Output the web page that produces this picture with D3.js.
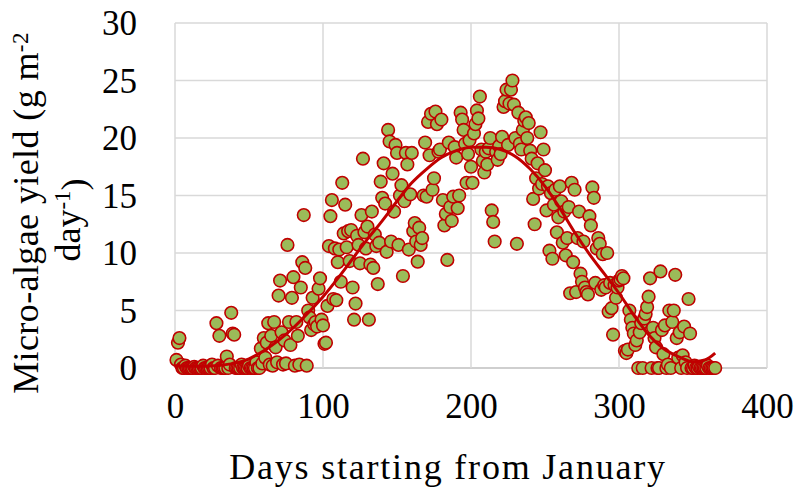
<!DOCTYPE html>
<html>
<head>
<meta charset="utf-8">
<script src="https://cdn.jsdelivr.net/npm/d3@7"></script>
<style>
  body { margin: 0; background: #fff; }
  text { font-family: "Liberation Serif", serif; fill: #000; }
</style>
</head>
<body>
<div id="chart"></div>
<script>
var days = [];
for (var d = 1; d <= 365; d++) days.push(d);

var yields = [
  0.7, 2.2, 2.6, 0.3, 0, 0, 0.2, 0, 0, 0, 0, 0, 0.1, 0, 0, 0, 0, 0, 0.2, 0,
  0, 0, 0, 0, 0.3, 0, 0, 3.9, 0.2, 2.8, 0, 0, 0, 0, 1.0, 0, 0.3, 4.8, 3.0, 2.9,
  0, 0, 0, 0, 0.3, 0, 0, 0, 0, 0.2, 0, 0, 0, 0, 0.5, 0, 0, 1.7, 0.4, 2.6,
  0.9, 2.2, 3.9, 0.3, 2.8, 0.2, 4.0, 1.8, 0.5, 6.3, 7.6, 3.1, 0.3, 2.4, 0.4, 10.7, 4.0, 2.0, 6.1, 7.9,
  0.2, 4.0, 2.8, 0.3, 7.0, 9.2, 13.3, 8.7, 0.2, 5.0, 4.4, 3.3, 6.1, 3.8, 4.0, 3.6, 6.9, 7.8, 4.2, 3.7,
  2.1, 2.2, 5.4, 10.6, 13.2, 14.6, 6.0, 10.4, 5.9, 9.2, 10.3, 7.5, 16.1, 11.7, 14.2, 10.5, 11.9, 9.3, 12.0, 7.0,
  4.2, 5.6, 11.5, 10.7, 9.1, 13.3, 18.2, 11.8, 10.4, 12.3, 4.2, 9.0, 13.6, 8.7, 11.6, 10.6, 7.3, 10.9, 16.2, 14.8,
  17.8, 14.3, 10.1, 20.7, 19.7, 11.0, 16.9, 13.6, 19.4, 18.7, 10.7, 15.0, 15.9, 8.0, 14.5, 18.7, 17.7, 10.3, 15.1, 18.7,
  11.9, 12.6, 11.0, 9.25, 12.2, 10.7, 11.3, 15.0, 19.6, 14.9, 21.4, 18.5, 22.1, 15.5, 16.5, 22.3, 21.2, 18.8, 19.0, 21.6,
  14.6, 12.4, 13.4, 9.4, 19.6, 14.0, 12.8, 14.9, 19.2, 18.3, 13.9, 15.0, 22.2, 21.6, 20.7, 19.5, 16.1, 18.6, 19.8, 17.5,
  16.1, 20.4, 21.2, 22.4, 21.7, 23.6, 19.0, 18.0, 17.0, 18.8, 17.7, 19.1, 20.0, 13.7, 12.7, 11.0, 18.8, 18.1, 19.3, 18.6,
  20.1, 22.7, 23.2, 24.2, 19.4, 23.0, 24.2, 25.0, 22.9, 20.0, 10.8, 22.2, 19.5, 19.0, 20.7, 21.5, 21.8, 20.0, 21.3, 18.9,
  18.2, 14.7, 12.5, 16.5, 17.8, 15.6, 20.5, 16.0, 19.0, 17.2, 13.7, 15.8, 10.2, 15.2, 9.5, 14.2, 15.5, 11.8, 13.1, 15.8,
  14.5, 10.9, 13.6, 9.8, 11.3, 14.0, 6.5, 16.1, 9.2, 15.5, 6.6, 11.3, 13.6, 8.2, 7.5, 11.0, 7.0, 6.6, 6.4, 13.2,
  12.4, 15.7, 14.8, 7.4, 10.4, 11.3, 10.8, 6.8, 9.9, 7.2, 7.0, 10.0, 4.9, 7.4, 5.2, 2.9, 7.2, 6.1, 7.0, 7.6,
  7.7, 8.0, 7.8, 1.5, 1.3, 1.6, 5.0, 4.2, 3.5, 3.0, 2.0, 2.4, 0, 3.1, 3.9, 0, 4.3, 4.7, 5.3, 6.2,
  7.8, 0, 3.5, 2.6, 1.8, 0, 0, 8.4, 3.3, 1.2, 3.7, 0, 0.3, 5.0, 0, 4.0, 5.0, 8.1, 2.6, 0.9,
  3.1, 0, 1.1, 3.6, 0.5, 0, 6.0, 3.0, 0, 0, 0.2, 0, 0, 0.1, 0, 0, 0, 0, 0, 0.2,
  0, 0, 0, 0, 0
];

// polynomial trendline, values
var trendDays = [0, 20, 40, 50, 60, 70, 80, 90, 100, 110, 120, 130, 140, 150, 160, 170, 180, 190, 200,
  210, 220, 230, 240, 250, 260, 270, 280, 290, 300, 310, 320, 330, 340, 350, 358, 365];
var trendVals = [0.2, 0.15, 0.4, 0.8, 1.5, 2.4, 3.5, 4.8, 6.2, 7.8, 9.5, 11.2, 12.8, 14.5, 16.1, 17.3, 18.3, 18.9, 19.2,
  19.2, 19.0, 18.4, 17.3, 15.8, 13.9, 11.8, 9.9, 8.2, 6.5, 4.6, 2.9, 1.7, 1.0, 0.55, 0.7, 1.3];

var xTicks = [0, 100, 200, 300, 400];
var yTicks = [0, 5, 10, 15, 20, 25, 30];

var svgWidth = 797, svgHeight = 488;
var margin = { top: 23, right: 30, bottom: 120, left: 175 };
var width = 767 - margin.left;
var height = 368 - margin.top;

var svg = d3.select("#chart").append("svg")
  .attr("width", svgWidth)
  .attr("height", svgHeight);

var chartGroup = svg.append("g")
  .attr("transform", `translate(${margin.left}, ${margin.top})`);

var xScale = d3.scaleLinear().domain([0, 400]).range([0, width]);
var yScale = d3.scaleLinear().domain([0, 30]).range([height, 0]);

// gridlines
chartGroup.append("g").selectAll("line.h")
  .data(yTicks)
  .enter().append("line")
  .attr("x1", 0).attr("x2", width)
  .attr("y1", d => yScale(d)).attr("y2", d => yScale(d))
  .attr("stroke", d => d === 0 ? "#bfbfbf" : "#d9d9d9")
  .attr("stroke-width", 1.5);

chartGroup.append("g").selectAll("line.v")
  .data(xTicks)
  .enter().append("line")
  .attr("y1", 0).attr("y2", height)
  .attr("x1", d => xScale(d)).attr("x2", d => xScale(d))
  .attr("stroke", "#d9d9d9")
  .attr("stroke-width", 1.5);

// tick labels
var bottomAxis = d3.axisBottom(xScale).tickValues(xTicks).tickSize(0).tickPadding(25);
var leftAxis = d3.axisLeft(yScale).tickValues(yTicks).tickSize(0).tickPadding(38);

var xg = chartGroup.append("g")
  .attr("transform", `translate(0, ${height})`)
  .call(bottomAxis);
var yg = chartGroup.append("g").call(leftAxis);
[xg, yg].forEach(function(g) {
  g.select(".domain").remove();
  g.selectAll("text")
    .style("font-family", "Liberation Serif, serif")
    .style("font-size", "35px")
    .attr("fill", "#000");
});
yg.selectAll("text").attr("dy", "0.34em");

// points
var pts = days.map((d, i) => ({ day: d, v: yields[i] }));
chartGroup.selectAll("circle")
  .data(pts)
  .enter()
  .append("circle")
  .attr("cx", d => xScale(d.day))
  .attr("cy", d => yScale(d.v))
  .attr("r", 6.3)
  .attr("fill", "#9bbb59")
  .attr("stroke", "#c00000")
  .attr("stroke-width", 1.6);

// trendline
var line = d3.line()
  .x((d, i) => xScale(trendDays[i]))
  .y(d => yScale(d))
  .curve(d3.curveMonotoneX);

chartGroup.append("path")
  .datum(trendVals)
  .attr("d", line)
  .attr("fill", "none")
  .attr("stroke", "#c00000")
  .attr("stroke-width", 3);

// axis titles
svg.append("text")
  .attr("x", 448)
  .attr("y", 479)
  .style("text-anchor", "middle")
  .style("font-size", "36px")
  .style("letter-spacing", "1.8px")
  .text("Days starting from January");

var yTitle = svg.append("text")
  .attr("transform", "translate(38, 213) rotate(-90)")
  .style("text-anchor", "middle")
  .style("font-size", "36px")
  .style("letter-spacing", "0.4px");
yTitle.append("tspan").text("Micro-algae yield (g m");
yTitle.append("tspan").attr("dy", "-0.45em").style("font-size", "23px").text("-2");

var yTitle2 = svg.append("text")
  .attr("transform", "translate(80, 220) rotate(-90)")
  .style("text-anchor", "middle")
  .style("font-size", "36px");
yTitle2.append("tspan").text("day");
yTitle2.append("tspan").attr("dy", "-0.45em").style("font-size", "23px").text("-1");
yTitle2.append("tspan").attr("dy", "0.45em").text(")");
</script>
</body>
</html>
